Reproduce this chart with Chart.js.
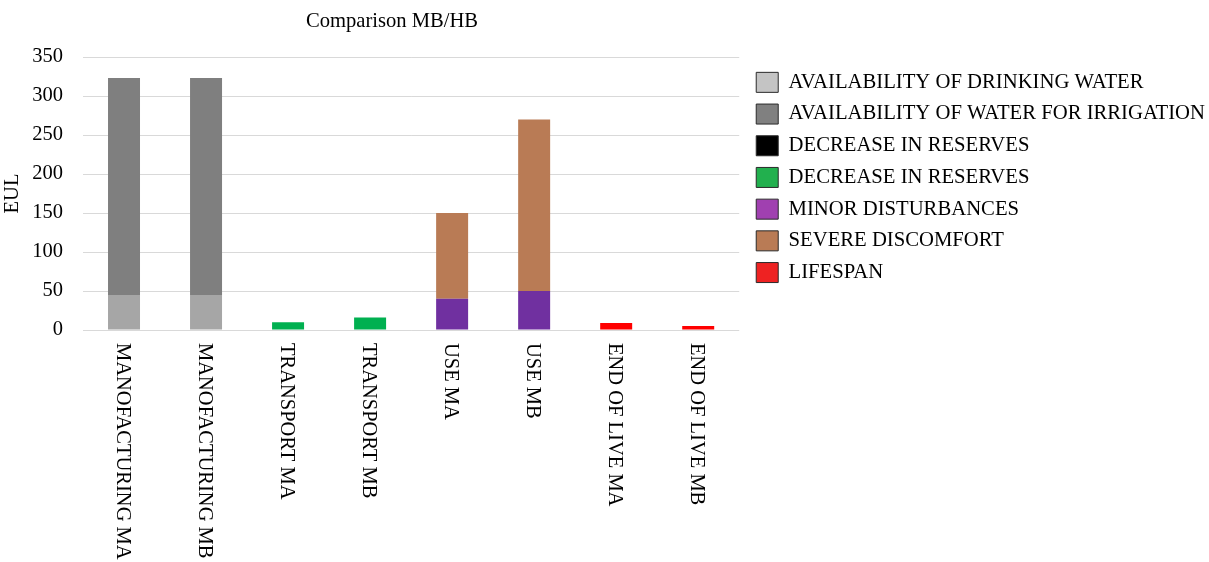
<!DOCTYPE html>
<html>
<head>
<meta charset="utf-8">
<script src="https://cdn.jsdelivr.net/npm/chart.js@4.4.1/dist/chart.umd.min.js"></script>
<style>
  html, body { margin: 0; padding: 0; background: #fff; }
  #wrap { width: 1209px; height: 562px; position: relative; }
</style>
</head>
<body>
<div id="wrap"><canvas id="c" width="1209" height="562"></canvas></div>
<script>
const chartTitle = 'Comparison MB/HB';
const yAxisTitle = 'EUL';
const categories = ['MANOFACTURING MA', 'MANOFACTURING MB', 'TRANSPORT MA', 'TRANSPORT MB', 'USE MA', 'USE MB', 'END OF LIVE MA', 'END OF LIVE MB'];
const seriesNames = ['AVAILABILITY OF DRINKING WATER', 'AVAILABILITY OF WATER FOR IRRIGATION', 'DECREASE IN RESERVES', 'DECREASE IN RESERVES', 'MINOR DISTURBANCES', 'SEVERE DISCOMFORT', 'LIFESPAN'];
const drinkingWater = [45, 45, 0, 0, 0, 0, 0, 0];
const irrigationWater = [278, 278, 0, 0, 0, 0, 0, 0];
const decreaseReservesBlack = [0, 0, 0, 0, 0, 0, 0, 0];
const decreaseReservesGreen = [0, 0, 10, 16, 0, 0, 0, 0];
const minorDisturbances = [0, 0, 0, 0, 40, 50, 0, 0];
const severeDiscomfort = [0, 0, 0, 0, 110, 220, 0, 0];
const lifespan = [0, 0, 0, 0, 0, 0, 9, 5];
const yTicks = [0, 50, 100, 150, 200, 250, 300, 350];

const barColors = ['#a6a6a6', '#7f7f7f', '#000000', '#00b050', '#7030a0', '#b97b55', '#ff0000'];
const legendColors = ['#c4c4c4', '#808080', '#000000', '#22b04e', '#a040b0', '#b97b55', '#ee2222'];
const seriesData = [drinkingWater, irrigationWater, decreaseReservesBlack, decreaseReservesGreen, minorDisturbances, severeDiscomfort, lifespan];

const FONT = '"Liberation Serif", "Times New Roman", serif';

const customText = {
  id: 'customText',
  afterLayout(chart) {
    if (chart.legend) { chart.legend.left += 6; chart.legend.right += 6; }
  },
  afterDraw(chart) {
    const ctx = chart.ctx;
    const xs = chart.scales.x;
    ctx.save();
    ctx.fillStyle = '#000';
    ctx.font = '20.6px ' + FONT;
    ctx.textAlign = 'center';
    ctx.textBaseline = 'middle';
    ctx.fillText(chartTitle, 392, 22);
    ctx.font = '20.5px ' + FONT;
    categories.forEach((lab, i) => {
      const x = xs.getPixelForValue(i) - 2;
      ctx.save();
      ctx.translate(x, chart.chartArea.bottom + 13);
      ctx.rotate(Math.PI / 2);
      ctx.textAlign = 'left';
      ctx.textBaseline = 'middle';
      ctx.fillText(lab, 0, 0);
      ctx.restore();
    });
    ctx.restore();
  }
};

new Chart(document.getElementById('c'), {
  type: 'bar',
  data: {
    labels: categories,
    datasets: seriesNames.map((n, i) => ({
      label: n,
      data: seriesData[i],
      backgroundColor: barColors[i],
      borderWidth: 0,
      barPercentage: 0.39,
      categoryPercentage: 1.0,
      stack: 's'
    }))
  },
  options: {
    responsive: false,
    animation: false,
    devicePixelRatio: 1,
    layout: { padding: { top: 57, left: 0, right: 0, bottom: 0 } },
    plugins: {
      title: { display: false },
      tooltip: { enabled: false },
      legend: {
        display: true,
        position: 'right',
        align: 'start',
        maxWidth: 480,
        title: { display: true, text: '', font: { size: 4, lineHeight: 1 }, padding: 0 },
        labels: {
          boxWidth: 22,
          boxHeight: 20,
          padding: 11,
          color: '#000',
          font: { family: FONT, size: 20.7 },
          generateLabels: (chart) => chart.data.datasets.map((d, i) => ({
            text: d.label,
            fillStyle: legendColors[i],
            strokeStyle: '#2a2a2a',
            fontColor: '#000',
            lineWidth: 1,
            hidden: false,
            datasetIndex: i
          }))
        }
      }
    },
    scales: {
      x: {
        stacked: true,
        grid: { display: false },
        border: { display: false },
        ticks: { display: false },
        afterFit: (s) => { s.height = 232; }
      },
      y: {
        stacked: true,
        min: 0,
        max: 350,
        afterBuildTicks: (s) => { s.ticks = yTicks.map(v => ({ value: v })); },
        grid: { color: '#d9d9d9', lineWidth: 1, drawTicks: false },
        border: { display: false },
        ticks: { color: '#000', padding: 20, font: { family: FONT, size: 20.5 } },
        title: { display: true, text: yAxisTitle, color: '#000', font: { family: FONT, size: 20.5 }, padding: { top: 0, bottom: 0 } },
        afterFit: (s) => { s.width = 83; }
      }
    }
  },
  plugins: [customText]
});
</script>
</body>
</html>
